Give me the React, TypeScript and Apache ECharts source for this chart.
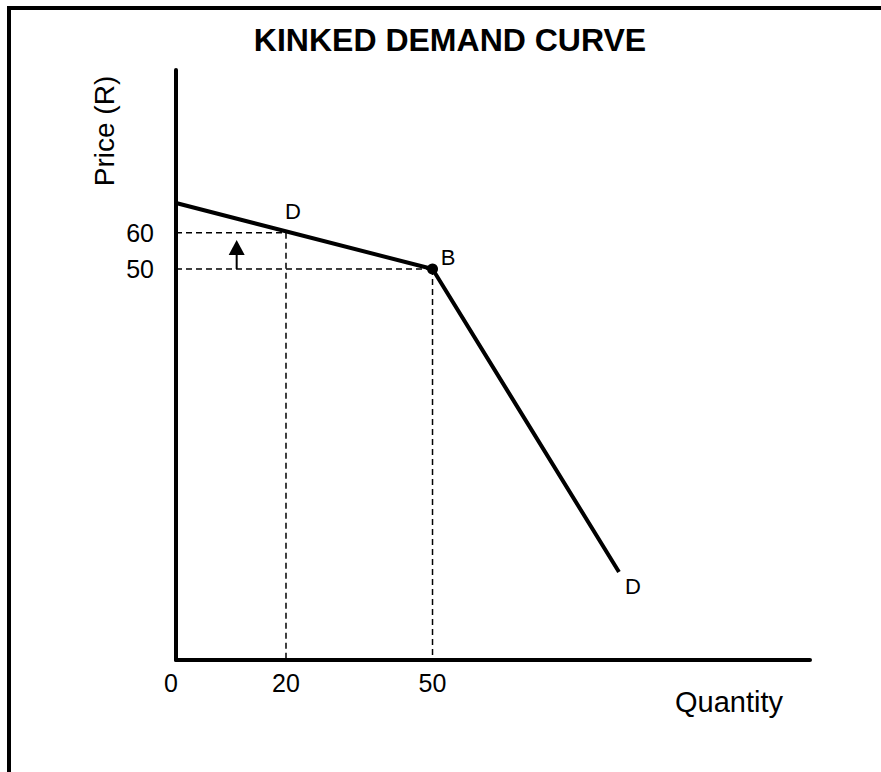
import React, { useEffect, useRef } from 'react';
import * as echarts from 'echarts';

// ---- texts ----
const titleText = 'KINKED DEMAND CURVE';
const xAxisName = 'Quantity';
const yAxisName = 'Price (R)';

// ---- data in diagram units (the sketch is not to scale: both axes run 0..100) ----
const qTickLabels = ['0', '20', '50'];
const qTickPos = [0, 17.35, 40.46];
const pTickLabels = ['50', '60'];
const pTickPos = [66.27, 72.4];

// demand curve: start on price axis, kink B, end D
const demandQ = [0, 40.46, 69.87];
const demandP = [77.46, 66.27, 14.92];

// dashed guides from these points to both axes
const guideQ = [17.35, 40.46];
const guideP = [72.4, 66.27];

// price-increase arrow
const arrowQ = 9.57;
const arrowFromP = 66.27;
const arrowShaftToP = 69.9;
const arrowHeadP = 69.92;

// point labels
const pointNames = ['D', 'B', 'D'];
const pointQ = [17.35, 40.46, 69.87];
const pointP = [72.66, 66.27, 14.92];
const kinkIndex = 1;

const FONT = '"Liberation Sans", Arial, Helvetica, sans-serif';

function tickFormatter(pos: number[], labels: string[], firstRich?: string) {
  return (v: number) => {
    const i = pos.findIndex((p) => Math.abs(p - v) < 1e-6);
    if (i < 0) return '';
    if (i === 0 && firstRich) return '{' + firstRich + '|' + labels[i] + '}';
    return labels[i];
  };
}

export default function App() {
  const ref = useRef<HTMLDivElement>(null);

  useEffect(() => {
    if (!ref.current) return;
    const chart = echarts.init(ref.current, undefined, { renderer: 'svg' });

    const dashStyle = { color: '#000', width: 1.5, type: [6, 4] as number[] };
    const guideSeries: any[] = [];
    guideQ.forEach((q, i) => {
      const p = guideP[i];
      guideSeries.push({
        type: 'line',
        data: [[0, p], [q, p]],
        symbol: 'none',
        silent: true,
        lineStyle: dashStyle,
        z: 2,
      });
      guideSeries.push({
        type: 'line',
        data: [[q, p], [q, 0]],
        symbol: 'none',
        silent: true,
        lineStyle: dashStyle,
        z: 2,
      });
    });

    const labelOffsets = [[7, -20], [15.5, -12], [14, 15]];

    const option: any = {
      animation: false,
      backgroundColor: '#fff',
      textStyle: { fontFamily: FONT, color: '#000' },
      grid: {
        left: 176,
        right: 71,
        top: 70,
        bottom: 112,
        containLabel: false,
        outerBoundsMode: 'none',
      },
      xAxis: {
        type: 'value',
        min: 0,
        max: 100,
        axisLine: { show: true, lineStyle: { color: '#000', width: 4 } },
        axisTick: { show: false },
        splitLine: { show: false },
        axisLabel: {
          customValues: qTickPos,
          formatter: tickFormatter(qTickPos, qTickLabels, 'z'),
          fontSize: 25,
          color: '#000',
          fontFamily: FONT,
          margin: 10,
          rich: {
            z: { fontSize: 25, color: '#000', fontFamily: FONT, padding: [0, 10, 0, 0] },
          },
        },
      },
      yAxis: {
        type: 'value',
        min: 0,
        max: 100,
        axisLine: { show: true, lineStyle: { color: '#000', width: 4 } },
        axisTick: { show: false },
        splitLine: { show: false },
        axisLabel: {
          customValues: pTickPos,
          formatter: tickFormatter(pTickPos, pTickLabels),
          fontSize: 25,
          color: '#000',
          fontFamily: FONT,
          margin: 22,
          padding: [5, 0, 0, 0],
        },
      },
      series: [
        ...guideSeries,
        {
          type: 'line',
          name: 'Demand',
          data: demandQ.map((q, i) => [q, demandP[i]]),
          symbol: 'none',
          silent: true,
          lineStyle: { color: '#000', width: 4, join: 'round', cap: 'butt' },
          z: 5,
        },
        {
          type: 'line',
          data: [[arrowQ, arrowFromP], [arrowQ, arrowShaftToP]],
          symbol: 'none',
          silent: true,
          lineStyle: { color: '#000', width: 2 },
          z: 4,
        },
        {
          type: 'scatter',
          data: [[arrowQ, arrowHeadP]],
          symbol: 'triangle',
          symbolSize: [16, 15],
          silent: true,
          itemStyle: { color: '#000', opacity: 1 },
          z: 4,
        },
        {
          type: 'scatter',
          data: [[demandQ[kinkIndex], demandP[kinkIndex]]],
          symbol: 'circle',
          symbolSize: 11,
          silent: true,
          itemStyle: { color: '#000', opacity: 1 },
          z: 6,
        },
        {
          type: 'scatter',
          symbol: 'circle',
          symbolSize: 1,
          silent: true,
          itemStyle: { color: 'rgba(0,0,0,0)', opacity: 1 },
          data: pointNames.map((n, i) => ({
            name: n,
            value: [pointQ[i], pointP[i]],
            label: {
              show: true,
              position: 'inside',
              formatter: '{b}',
              fontSize: 22,
              fontFamily: FONT,
              color: '#000',
              opacity: 1,
              textBorderWidth: 0,
              offset: labelOffsets[i],
            },
          })),
          z: 7,
        },
      ],
      graphic: [
        {
          type: 'rect',
          silent: true,
          shape: { x: 9, y: 8, width: 900, height: 800 },
          style: { fill: 'none', stroke: '#000', lineWidth: 4 },
        },
        {
          type: 'text',
          silent: true,
          x: 450,
          y: 40,
          style: {
            text: titleText,
            fontSize: 32,
            fontWeight: 'bold',
            fontFamily: FONT,
            fill: '#000',
            textAlign: 'center',
            align: 'center',
            textVerticalAlign: 'middle',
            verticalAlign: 'middle',
          },
        },
        {
          type: 'text',
          silent: true,
          x: 104,
          y: 131,
          rotation: Math.PI / 2,
          style: {
            text: yAxisName,
            fontSize: 28,
            fontFamily: FONT,
            fill: '#000',
            textAlign: 'center',
            align: 'center',
            textVerticalAlign: 'middle',
            verticalAlign: 'middle',
          },
        },
        {
          type: 'text',
          silent: true,
          x: 729,
          y: 702,
          style: {
            text: xAxisName,
            fontSize: 29,
            fontFamily: FONT,
            fill: '#000',
            textAlign: 'center',
            align: 'center',
            textVerticalAlign: 'middle',
            verticalAlign: 'middle',
          },
        },
      ],
    };

    chart.setOption(option);
    return () => {
      chart.dispose();
    };
  }, []);

  return (
    <div
      ref={ref}
      style={{ position: 'absolute', left: 0, top: 0, width: 881, height: 772, background: '#fff' }}
    />
  );
}
